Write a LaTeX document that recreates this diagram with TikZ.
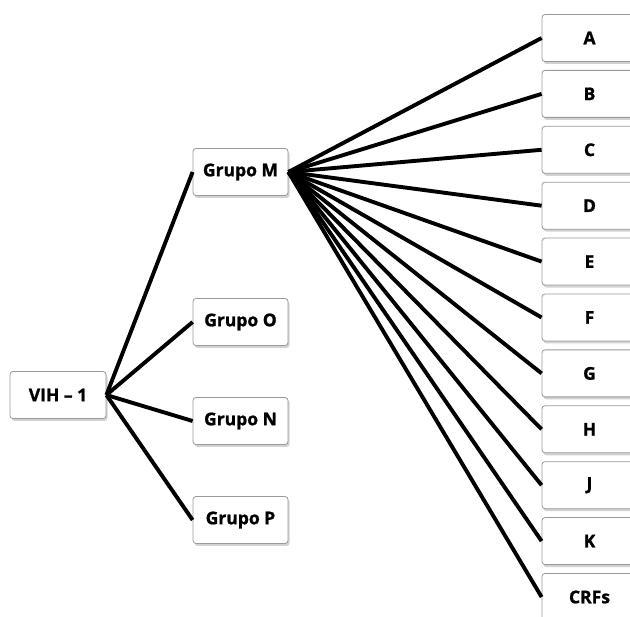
\documentclass[tikz,border=0pt]{standalone}
\usepackage{fontspec}
\setmainfont{Open Sans}[BoldFeatures={FakeBold=1.2}]
\usetikzlibrary{shadows}
\tikzset{
  box/.style={draw=black!40, line width=0.8pt, fill=white, rounded corners=3pt,
    minimum width=95pt, minimum height=47pt, inner sep=0pt,
    font=\fontsize{17.5}{20}\selectfont\bfseries,
    drop shadow={opacity=0.35, shadow xshift=1.5pt, shadow yshift=-2.5pt}},
  link/.style={line width=3.9pt, black}
}
\begin{document}
\begin{tikzpicture}[x=1pt,y=-1pt]
\useasboundingbox (0,0) rectangle (630,617);
\clip (0,0) rectangle (630,617);
\fill[white] (0,0) rectangle (630,617);
\node[box, minimum width=96pt] (vih) at (58,395) {VIH – 1};
\node[box] (gm) at (240.5,172) {Grupo M};
\node[box] (go) at (240.5,322) {Grupo O};
\node[box] (gn) at (240.5,421) {Grupo N};
\node[box] (gp) at (240.5,520) {Grupo P};
\foreach \n/\t [count=\i from 0] in {a/A,b/B,c/C,d/D,e/E,f/F,g/G,h/H,j/J,k/K,crf/CRFs}{
  \node[box] (\n) at (589.5,{38+55.9*\i}) {\t};
}
\foreach \g in {gm,go,gn,gp}{
  \draw[link] (vih.east) -- (\g.west);
}
\foreach \n in {a,b,c,d,e,f,g,h,j,k,crf}{
  \draw[link] (gm.east) -- (\n.west);
}
\end{tikzpicture}
\end{document}
